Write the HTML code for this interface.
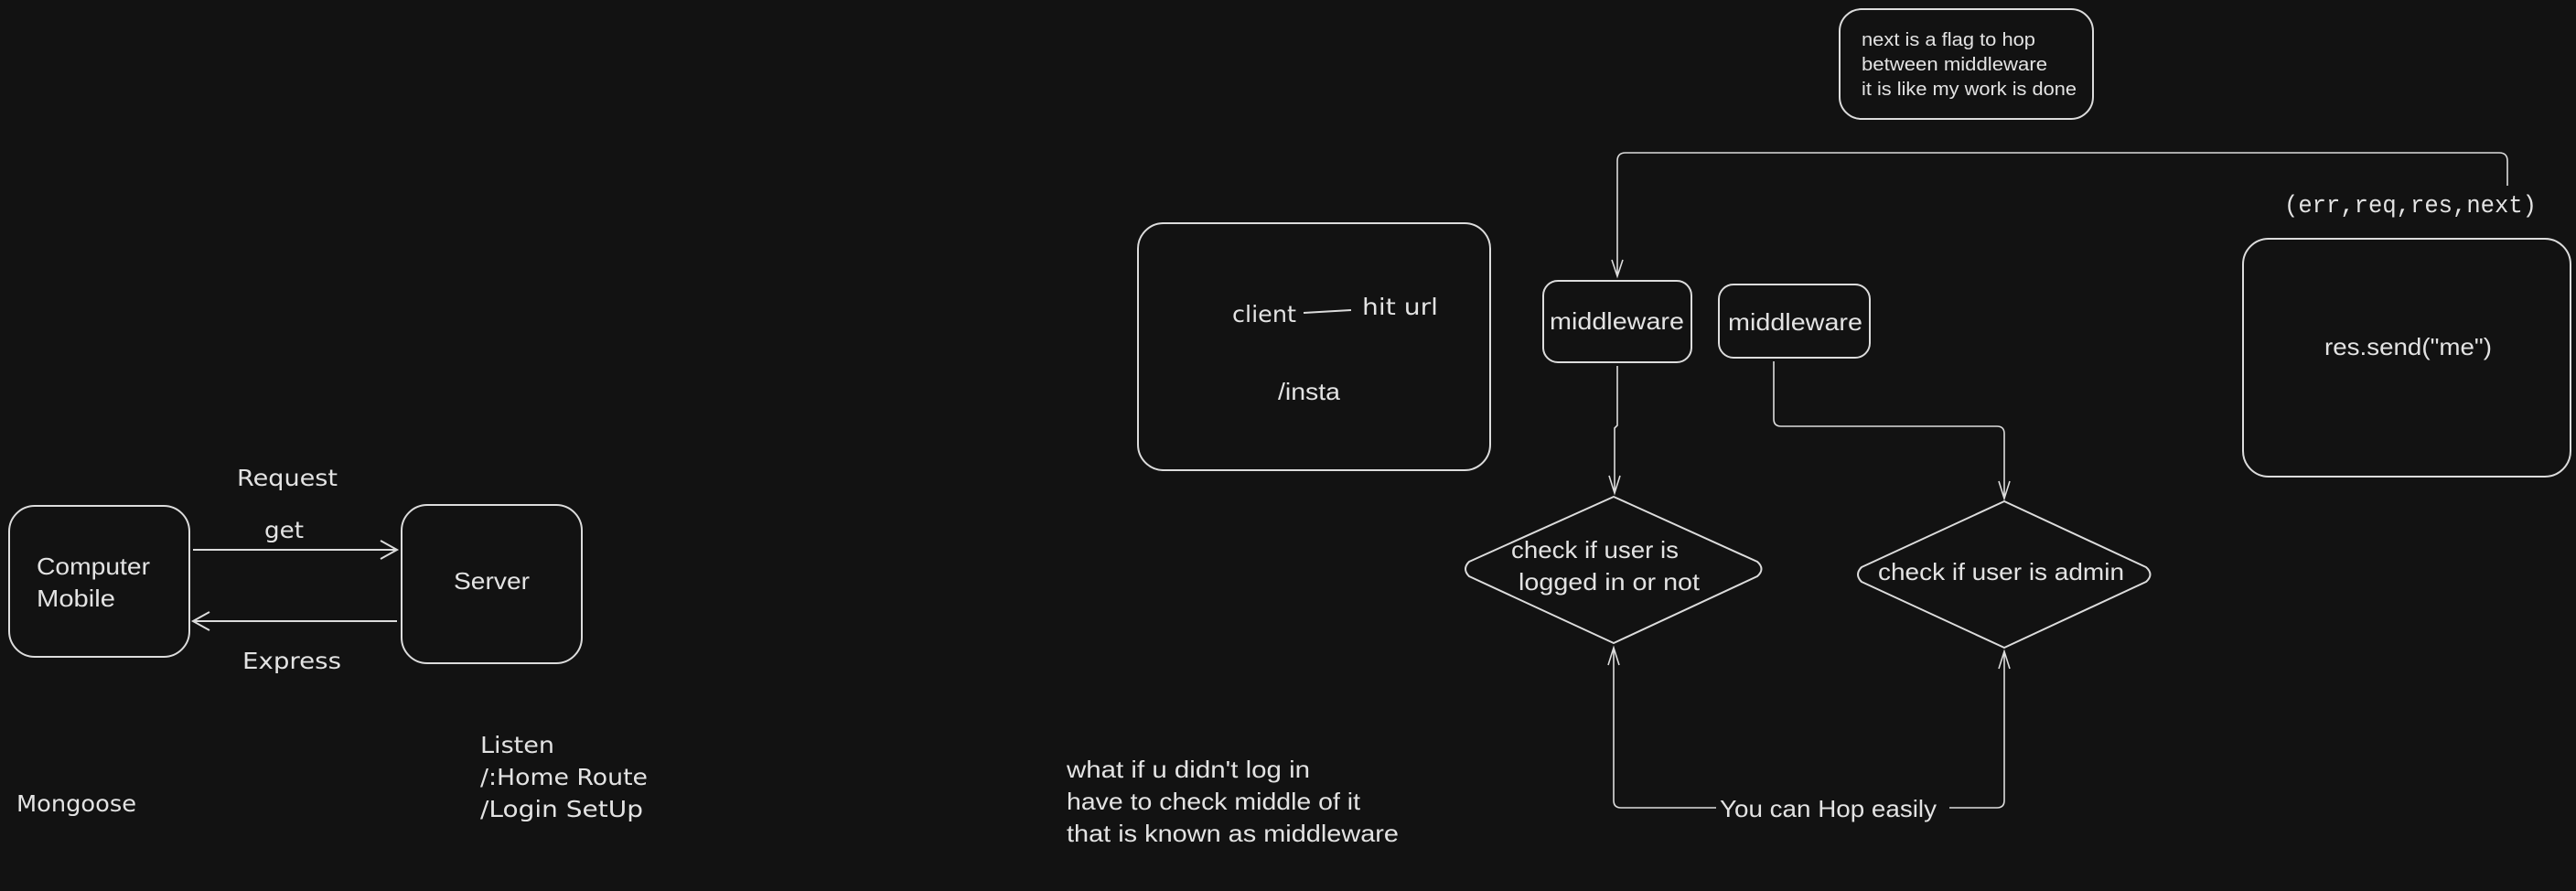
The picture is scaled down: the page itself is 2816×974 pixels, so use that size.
<!DOCTYPE html>
<html><head><meta charset="utf-8"><style>
html,body{margin:0;padding:0;background:#121212;}
svg{display:block;}
text{fill:#e3e3e3;font-family:"Liberation Sans",sans-serif;}
.h{font-family:"DejaVu Sans","Liberation Sans",sans-serif;}
.m{font-family:"Liberation Mono",monospace;}
</style></head><body>
<svg width="2816" height="974" viewBox="0 0 2816 974" xmlns="http://www.w3.org/2000/svg">
<rect width="2816" height="974" fill="#121212"/>
<g fill="none" stroke="#dcdcdc" stroke-width="2">
<rect x="10" y="553" width="197" height="165" rx="28"/>
<rect x="439" y="552" width="197" height="173" rx="28"/>
<path d="M211 601 H434 M416 591 L434 601 L416 611"/>
<path d="M434 679 H211 M229 669 L211 679 L229 689"/>
<rect x="2011" y="10" width="277" height="120" rx="24"/>
<path d="M2741 203 V176 q0 -9 -9 -9 H1777 q-9 0 -9 9 V302 M1762 284 L1768 302 L1774 284" stroke-width="1.6"/>
<rect x="2452" y="261" width="358" height="260" rx="28"/>
<rect x="1244" y="244" width="385" height="270" rx="28"/>
<path d="M1425 342 L1477 339" />
<rect x="1687" y="307" width="162" height="89" rx="16"/>
<rect x="1879" y="311" width="165" height="80" rx="16"/>
<path d="M1768 400 V465 L1765 468 V539 M1759 520 L1765 539 L1771 520" stroke-width="1.6"/>
<path d="M1939 395 V458 q0 8 8 8 H2183 q8 0 8 8 V545 M2185 526 L2191 545 L2197 526" stroke-width="1.6"/>
<path d="M1764 543 L1921 614 Q1930 622 1921 630 L1764 703 L1606 630 Q1598 622 1606 614 Z" stroke-linejoin="round"/>
<path d="M2191 548 L2346 620 Q2355 628 2346 636 L2191 708 L2035 636 Q2027 628 2035 620 Z" stroke-linejoin="round"/>
<path d="M1764 708 V875 q0 8 8 8 H1876 M1758 727 L1764 708 L1770 727" stroke-width="1.6"/>
<path d="M2131 883 H2183 q8 0 8 -8 V712 M2185 731 L2191 712 L2197 731" stroke-width="1.6"/>
</g>
<g lengthAdjust="spacingAndGlyphs">
<text x="40" y="628" font-size="26" textLength="124" lengthAdjust="spacingAndGlyphs">Computer</text>
<text x="40" y="663" font-size="26" textLength="86" lengthAdjust="spacingAndGlyphs">Mobile</text>
<text x="496" y="644" font-size="26" textLength="83" lengthAdjust="spacingAndGlyphs">Server</text>
<text class="h" x="259" y="531" font-size="25" textLength="110" lengthAdjust="spacingAndGlyphs">Request</text>
<text class="h" x="289" y="588" font-size="25" textLength="43" lengthAdjust="spacingAndGlyphs">get</text>
<text class="h" x="265" y="731" font-size="25" textLength="108" lengthAdjust="spacingAndGlyphs">Express</text>
<text class="h" x="18" y="887" font-size="25" textLength="131" lengthAdjust="spacingAndGlyphs">Mongoose</text>
<text class="h" x="525" y="823" font-size="25" textLength="81" lengthAdjust="spacingAndGlyphs">Listen</text>
<text class="h" x="525" y="858" font-size="25" textLength="183" lengthAdjust="spacingAndGlyphs">/:Home Route</text>
<text class="h" x="525" y="893" font-size="25" textLength="178" lengthAdjust="spacingAndGlyphs">/Login SetUp</text>
<text x="2035" y="50" font-size="20" textLength="190" lengthAdjust="spacingAndGlyphs">next is a flag to hop</text>
<text x="2035" y="77" font-size="20" textLength="203" lengthAdjust="spacingAndGlyphs">between middleware</text>
<text x="2035" y="104" font-size="20" textLength="235" lengthAdjust="spacingAndGlyphs">it is like my work is done</text>
<text class="m" x="2497" y="232" font-size="27" textLength="276" lengthAdjust="spacingAndGlyphs">(err,req,res,next)</text>
<text x="2541" y="388" font-size="26" textLength="183" lengthAdjust="spacingAndGlyphs">res.send("me")</text>
<text class="h" x="1347" y="352" font-size="25" textLength="70" lengthAdjust="spacingAndGlyphs">client</text>
<text class="h" x="1489" y="344" font-size="25" textLength="83" lengthAdjust="spacingAndGlyphs">hit url</text>
<text x="1397" y="437" font-size="26" textLength="68" lengthAdjust="spacingAndGlyphs">/insta</text>
<text x="1694" y="360" font-size="26" textLength="147" lengthAdjust="spacingAndGlyphs">middleware</text>
<text x="1889" y="361" font-size="26" textLength="147" lengthAdjust="spacingAndGlyphs">middleware</text>
<text x="1652" y="610" font-size="26" textLength="183" lengthAdjust="spacingAndGlyphs">check if user is</text>
<text x="1660" y="645" font-size="26" textLength="198" lengthAdjust="spacingAndGlyphs">logged in or not</text>
<text x="2053" y="634" font-size="26" textLength="269" lengthAdjust="spacingAndGlyphs">check if user is admin</text>
<text x="1880" y="893" font-size="26" textLength="237" lengthAdjust="spacingAndGlyphs">You can Hop easily</text>
<text x="1166" y="850" font-size="26" textLength="266" lengthAdjust="spacingAndGlyphs">what if u didn't log in</text>
<text x="1166" y="885" font-size="26" textLength="321" lengthAdjust="spacingAndGlyphs">have to check middle of it</text>
<text x="1166" y="920" font-size="26" textLength="363" lengthAdjust="spacingAndGlyphs">that is known as middleware</text>
</g>
</svg>
</body></html>
